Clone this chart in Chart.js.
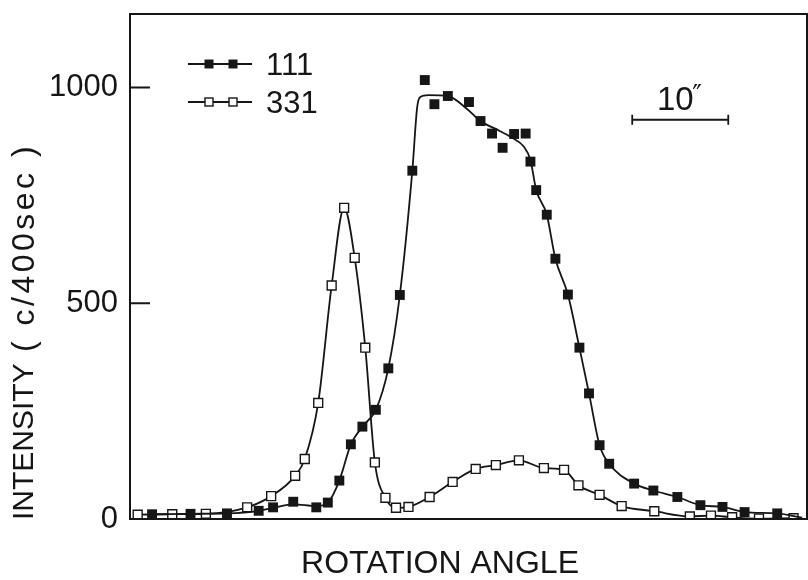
<!DOCTYPE html>
<html>
<head>
<meta charset="utf-8">
<title>Rocking curves 111 / 331</title>
<script src="https://cdn.jsdelivr.net/npm/chart.js@4.4.1/dist/chart.umd.min.js"></script>
<style>
  html, body { margin: 0; padding: 0; background: #fff; }
  #curves { display: block; }
</style>
</head>
<body>
<canvas id="curves" width="808" height="580"></canvas>
<script>
// rotation angle in arc seconds, intensity in counts per 400 sec
const angle111 = [2.3, 6.3, 10.1, 13.4, 14.9, 17.0, 19.4, 20.6, 21.8, 23.0,
  24.2, 25.6, 26.9, 28.1, 29.4, 30.7, 31.7, 33.1, 35.3, 36.5,
  37.7, 38.8, 40.0, 41.2, 41.7, 42.3, 43.4, 44.3, 45.6, 46.8,
  47.8, 48.9, 49.9, 52.5, 54.5, 57.0, 59.4, 61.7, 64.0, 67.4];
const counts111 = [11, 12, 13, 19, 27, 40, 27, 38, 89, 173,
  214, 253, 349, 519, 807, 1017, 961, 980, 966, 922,
  893, 860, 892, 893, 828, 762, 705, 603, 520, 397,
  291, 171, 128, 82, 66, 51, 32, 28, 16, 13];

// smoothed curve drawn through the 111 measurements
const fitAngle111 = [2.3, 6.3, 10.1, 13.4, 14.9, 17.0, 19.4, 20.6, 21.8, 23.0,
  24.2, 25.6, 26.9, 28.1, 29.4, 29.9, 30.2, 31.1, 33.1, 35.1,
  36.5, 38.5, 39.9, 41.0, 41.7, 42.3, 43.4, 44.3, 45.6, 46.8,
  47.8, 48.9, 49.9, 52.5, 54.5, 57.0, 59.4, 61.7, 64.0, 67.4, 70.0];
const fitCounts111 = [11, 12, 13, 19, 26, 34, 30, 38, 89, 173,
  214, 253, 349, 519, 807, 953, 977, 982, 980, 950,
  922, 899, 882, 863, 832, 762, 705, 603, 520, 397,
  291, 171, 128, 82, 66, 51, 32, 28, 16, 13, 3];

const angle331 = [0.8, 4.4, 7.9, 12.2, 14.7, 17.2, 18.2, 19.6, 21.0, 22.3,
  23.4, 24.5, 25.5, 26.6, 27.7, 29.0, 31.2, 33.6, 36.0, 38.1,
  40.5, 43.1, 45.2, 46.7, 48.9, 51.2, 54.6, 58.3, 60.5, 62.7, 65.5, 69.1];
const counts331 = [10, 11, 12, 27, 53, 100, 139, 269, 541, 721,
  605, 397, 131, 49, 26, 28, 51, 86, 116, 125,
  136, 118, 114, 78, 56, 30, 18, 6, 8, 4, 1, 2];

const yTicks = [0, 500, 1000];
const seriesNames = ['111', '331'];

const INK = '#161616';

function pairs(xs, ys) {
  return xs.map((x, i) => ({ x: x, y: ys[i] }));
}

// box around the plot, with tick marks pointing inwards
const framePlugin = {
  id: 'frame',
  afterDraw(chart) {
    const { ctx, chartArea: a, scales: { y } } = chart;
    ctx.save();
    ctx.strokeStyle = INK;
    ctx.lineWidth = 2;
    ctx.strokeRect(a.left, a.top, a.right - a.left, a.bottom - a.top);
    ctx.beginPath();
    yTicks.forEach(v => {
      const py = y.getPixelForValue(v);
      ctx.moveTo(a.left, py);
      ctx.lineTo(a.left + 20, py);
    });
    ctx.stroke();
    ctx.restore();
  }
};

// axis titles; the rotated one is set in two runs like the lettered original
const titlePlugin = {
  id: 'titles',
  afterDraw(chart) {
    const { ctx, chartArea: a } = chart;
    ctx.save();
    ctx.fillStyle = INK;
    ctx.textBaseline = 'middle';
    ctx.textAlign = 'center';
    ctx.font = '32px "Liberation Sans"';
    ctx.fillText('ROTATION ANGLE', 440, a.bottom + 45);

    ctx.translate(25, a.bottom + 1);
    ctx.rotate(-Math.PI / 2);
    ctx.textAlign = 'left';
    ctx.font = '30px "Liberation Sans"';
    ctx.fillText('INTENSITY', 0, 0);
    ctx.font = '32px "Liberation Sans"';
    if ('letterSpacing' in ctx) ctx.letterSpacing = '3.5px';
    ctx.fillText('( c/400sec )', 168, 0);
    ctx.restore();
  }
};

// hand drawn style key: line with two markers, then the reflection name
const keyPlugin = {
  id: 'key',
  afterDraw(chart) {
    const ctx = chart.ctx;
    ctx.save();
    seriesNames.forEach((name, i) => {
      const y = 64 + i * 38;
      ctx.strokeStyle = INK;
      ctx.lineWidth = 1.8;
      ctx.beginPath();
      ctx.moveTo(188, y);
      ctx.lineTo(252, y);
      ctx.stroke();
      [209, 233].forEach(x => {
        if (i === 0) {
          ctx.fillStyle = INK;
          ctx.fillRect(x - 4.5, y - 4.5, 9, 9);
        } else {
          ctx.fillStyle = '#fff';
          ctx.fillRect(x - 4, y - 4, 8, 8);
          ctx.lineWidth = 1.4;
          ctx.strokeRect(x - 4, y - 4, 8, 8);
        }
      });
      ctx.fillStyle = INK;
      ctx.font = '31px "Liberation Sans"';
      ctx.textAlign = 'left';
      ctx.textBaseline = 'middle';
      ctx.fillText(name, 266, y + 2);
    });
    ctx.restore();
  }
};

// 10 arc second scale bar, placed through the x scale
const scaleBarPlugin = {
  id: 'scaleBar',
  afterDraw(chart) {
    const { ctx, scales: { x, y } } = chart;
    const x1 = x.getPixelForValue(52.3);
    const x2 = x.getPixelForValue(52.3 + 10);
    const yy = y.getPixelForValue(925);
    ctx.save();
    ctx.strokeStyle = INK;
    ctx.lineWidth = 1.8;
    ctx.beginPath();
    ctx.moveTo(x1, yy);
    ctx.lineTo(x2, yy);
    ctx.moveTo(x1, yy - 5);
    ctx.lineTo(x1, yy + 5);
    ctx.moveTo(x2, yy - 5);
    ctx.lineTo(x2, yy + 5);
    ctx.stroke();
    ctx.fillStyle = INK;
    ctx.textBaseline = 'alphabetic';
    ctx.textAlign = 'center';
    ctx.font = '33px "Liberation Sans"';
    const mid = (x1 + x2) / 2;
    ctx.fillText('10', mid - 5, yy - 10);
    ctx.textAlign = 'left';
    ctx.font = '26px "DejaVu Sans"';
    ctx.fillText('\u2033', mid + 12, yy - 16);
    ctx.restore();
  }
};

Chart.defaults.font.family = '"Liberation Sans", Arial, sans-serif';
Chart.defaults.color = INK;

const chart = new Chart(document.getElementById('curves'), {
  type: 'scatter',
  data: {
    datasets: [
      {
        label: seriesNames[0],
        data: pairs(angle111, counts111),
        showLine: false,
        pointStyle: 'rect',
        pointRadius: 7,
        backgroundColor: INK,
        borderColor: INK,
        pointBorderWidth: 0,
        order: 0
      },
      {
        label: seriesNames[0] + ' fit',
        data: pairs(fitAngle111, fitCounts111),
        showLine: true,
        cubicInterpolationMode: 'monotone',
        pointRadius: 0,
        borderColor: INK,
        borderWidth: 1.8,
        order: 1
      },
      {
        label: seriesNames[1],
        data: pairs(angle331, counts331),
        showLine: true,
        cubicInterpolationMode: 'monotone',
        pointStyle: 'rect',
        pointRadius: 6.3,
        backgroundColor: '#fff',
        borderColor: INK,
        borderWidth: 1.8,
        pointBorderWidth: 1.4,
        order: 2
      }
    ]
  },
  options: {
    responsive: false,
    animation: false,
    layout: { autoPadding: false, padding: { top: 14, right: 1, left: 0, bottom: 0 } },
    plugins: {
      legend: { display: false },
      tooltip: { enabled: false }
    },
    scales: {
      x: {
        type: 'linear',
        min: 0,
        max: 70.5,
        grid: { display: false },
        border: { display: false },
        ticks: { display: false },
        afterFit: (s) => {
          s.height = 61;
          s.paddingLeft = 0;
          s.paddingRight = 0;
        }
      },
      y: {
        min: 0,
        max: 1170,
        afterBuildTicks: (s) => { s.ticks = yTicks.map(v => ({ value: v })); },
        grid: { display: false },
        border: { display: false },
        ticks: {
          padding: 4,
          color: INK,
          font: { size: 31 },
          callback: (v) => String(v)
        },
        afterFit: (s) => {
          s.width = 130;
          s.paddingTop = 0;
          s.paddingBottom = 0;
        }
      }
    }
  },
  plugins: [framePlugin, titlePlugin, keyPlugin, scaleBarPlugin]
});
</script>
</body>
</html>
